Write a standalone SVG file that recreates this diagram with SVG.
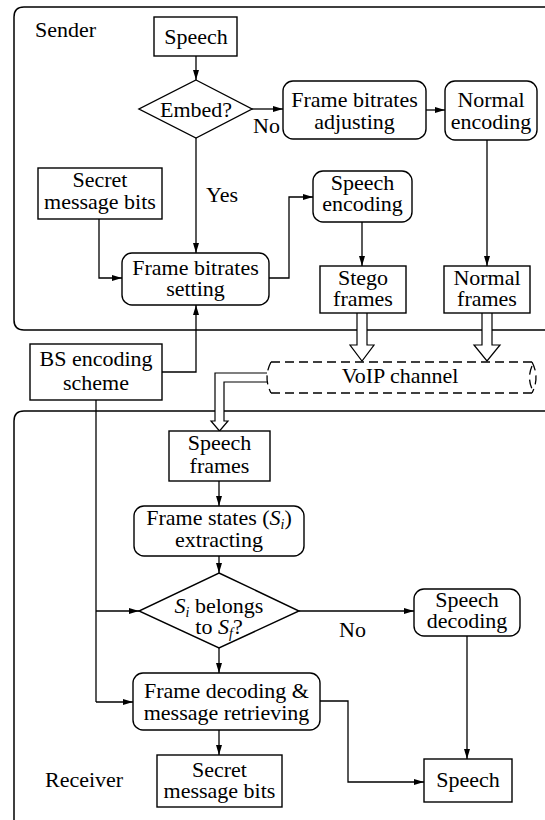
<svg xmlns="http://www.w3.org/2000/svg" width="545" height="820" viewBox="0 0 545 820">
<defs>
<marker id="ah" markerUnits="userSpaceOnUse" markerWidth="10" markerHeight="6" refX="10" refY="3" orient="auto">
<path d="M0,0 L10,3 L0,6 z" fill="#000"/>
</marker>
<style>
text{font-family:'Liberation Serif','DejaVu Serif','Times New Roman',Times,serif;font-size:22px;fill:#000}
.c{text-anchor:middle}
.n{fill:#fff;stroke:#000;stroke-width:1.4}
.l{fill:none;stroke:#000;stroke-width:1.3}
.a{fill:none;stroke:#000;stroke-width:1.3;marker-end:url(#ah)}
.h{fill:#fff;stroke:#000;stroke-width:1.2}
.d{fill:none;stroke:#000;stroke-width:1.3;stroke-dasharray:9 5}
.fr{fill:none;stroke:#000;stroke-width:1.5}
</style>
</defs>
<rect width="545" height="820" fill="#fff"/>

<g id="sender-frame">
<path class="fr" d="M545 7 H24 Q14 7 14 17 V320 Q14 330 24 330 H545"/>
<text x="35" y="37" font-family="Liberation Serif, serif">Sender</text>
</g>
<g id="receiver-frame">
<path class="fr" d="M545 411 H24 Q14 411 14 421 V820"/>
<text x="45" y="787" font-family="Liberation Serif, serif">Receiver</text>
</g>

<g id="connectors">
<path class="a" d="M196 56 V80"/>
<path class="a" d="M252 109 H283"/>
<path class="a" d="M426 110 H445"/>
<path class="a" d="M196 138 V253"/>
<path class="a" d="M99 219 V278 H122"/>
<path class="a" d="M269 278 H289 V197 H313"/>
<path class="a" d="M362 222 V266"/>
<path class="a" d="M487 140 V266"/>
<path class="a" d="M162 372 H196 V305"/>
<path class="h" d="M357 313 V345 H350 L362 361 L374 345 H367 V313"/>
<path class="h" d="M482 313 V345 H474 L487 361 L500 345 H492 V313"/>
<path class="h" d="M267 373 H215 V421 H211 L219.5 431 L228 421 H224 V382 H267"/>
<path class="a" d="M219 481 V506"/>
<path class="a" d="M219 556 V573"/>
<path class="l" d="M96 400 V702"/>
<path class="a" d="M96 611 H139"/>
<path class="a" d="M96 702 H133"/>
<path class="a" d="M299 611 H414"/>
<path class="a" d="M219 648 V673"/>
<path class="a" d="M219 730 V755"/>
<path class="a" d="M320 701 H348 V782 H424"/>
<path class="a" d="M467 636 V759"/>
</g>

<g id="speech-in">
<rect class="n" x="154" y="17" width="83" height="39"/>
<text class="c" x="196" y="44">Speech</text>
</g>
<g id="embed">
<polygon class="n" points="196,80 252,109 196,138 139,109"/>
<text class="c" x="196" y="117">Embed?</text>
</g>
<g id="labels-sender">
<text x="253" y="133">No</text>
<text x="206" y="202">Yes</text>
</g>
<g id="fb-adjust">
<rect class="n" x="283" y="81" width="143" height="58" rx="10"/>
<text class="c" x="354.5" y="107">Frame bitrates</text>
<text class="c" x="354.5" y="129">adjusting</text>
</g>
<g id="normal-enc">
<rect class="n" x="445" y="81" width="92" height="59" rx="10"/>
<text class="c" x="491" y="107">Normal</text>
<text class="c" x="491" y="129">encoding</text>
</g>
<g id="secret-in">
<rect class="n" x="38" y="168" width="124" height="51"/>
<text class="c" x="100" y="187">Secret</text>
<text class="c" x="100" y="209">message bits</text>
</g>
<g id="fb-setting">
<rect class="n" x="122" y="253" width="147" height="52" rx="10"/>
<text class="c" x="195.5" y="275">Frame bitrates</text>
<text class="c" x="195.5" y="296">setting</text>
</g>
<g id="speech-enc">
<rect class="n" x="313" y="171" width="99" height="51" rx="10"/>
<text class="c" x="362.5" y="190">Speech</text>
<text class="c" x="362.5" y="211">encoding</text>
</g>
<g id="stego-frames">
<rect class="n" x="320" y="266" width="86" height="47"/>
<text class="c" x="363" y="285">Stego</text>
<text class="c" x="363" y="306">frames</text>
</g>
<g id="normal-frames">
<rect class="n" x="444" y="266" width="86" height="47"/>
<text class="c" x="487" y="285">Normal</text>
<text class="c" x="487" y="306">frames</text>
</g>
<g id="bs-scheme">
<rect class="n" x="30" y="344" width="132" height="56"/>
<text class="c" x="96" y="366">BS encoding</text>
<text class="c" x="96" y="390">scheme</text>
</g>
<g id="voip">
<path class="d" d="M271 362 Q263 377.5 271 393"/>
<path class="d" d="M271 362 H532"/>
<path class="d" d="M271 393 H532"/>
<path class="d" d="M532 362 Q540 377.5 532 393"/>
<path class="d" d="M532 366 Q527 377.5 532 389" stroke-dasharray="6 4"/>
<text class="c" x="400" y="383">VoIP channel</text>
</g>
<g id="speech-frames">
<rect class="n" x="169" y="431" width="101" height="50"/>
<text class="c" x="219.5" y="450">Speech</text>
<text class="c" x="219.5" y="473">frames</text>
</g>
<g id="states-extract">
<rect class="n" x="134" y="506" width="170" height="50" rx="10"/>
<text class="c" x="219" y="525">Frame states (<tspan font-style="italic">S</tspan><tspan font-style="italic" font-size="14" dy="4">i</tspan><tspan dy="-4">)</tspan></text>
<text class="c" x="219" y="547">extracting</text>
</g>
<g id="belongs">
<polygon class="n" points="219,573 299,611 219,648 139,611"/>
<text class="c" x="219" y="613"><tspan font-style="italic">S</tspan><tspan font-style="italic" font-size="14" dy="4">i</tspan><tspan dy="-4"> belongs</tspan></text>
<text class="c" x="219" y="634">to <tspan font-style="italic">S</tspan><tspan font-style="italic" font-size="14" dy="4">f</tspan><tspan dy="-4">?</tspan></text>
</g>
<g id="labels-receiver">
<text x="339" y="637">No</text>
</g>
<g id="speech-dec">
<rect class="n" x="414" y="589" width="106" height="47" rx="10"/>
<text class="c" x="467" y="607">Speech</text>
<text class="c" x="467" y="628">decoding</text>
</g>
<g id="frame-decoding">
<rect class="n" x="133" y="673" width="187" height="57" rx="10"/>
<text class="c" x="226.5" y="698">Frame decoding &amp;</text>
<text class="c" x="226.5" y="720">message retrieving</text>
</g>
<g id="secret-out">
<rect class="n" x="157" y="755" width="125" height="52"/>
<text class="c" x="219.5" y="777">Secret</text>
<text class="c" x="219.5" y="798">message bits</text>
</g>
<g id="speech-out">
<rect class="n" x="424" y="759" width="88" height="43"/>
<text class="c" x="468" y="787">Speech</text>
</g>
</svg>
